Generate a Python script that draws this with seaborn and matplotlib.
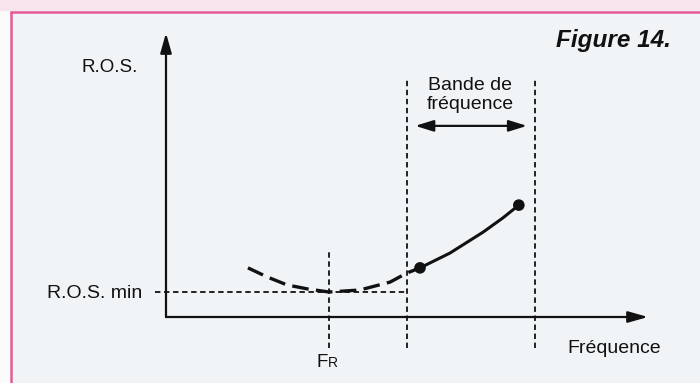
import matplotlib
matplotlib.use("Agg")
import matplotlib.pyplot as plt
import seaborn as sns
import pandas as pd
from matplotlib.patches import Rectangle

sns.set_theme(style="white")
plt.rcParams["font.family"] = ["Liberation Sans", "DejaVu Sans"]

# Standing-wave ratio curve (arbitrary units: frequency 0..10, R.O.S. 0..10)
freq_out = [1.70, 2.10, 2.51, 2.93, 3.38, 4.02, 4.65, 5.00, 5.27]
ros_out = [1.73, 1.41, 1.13, 0.99, 0.88, 0.95, 1.23, 1.55, 1.73]
freq_band = [5.27, 5.89, 6.58, 6.99, 7.32]
ros_band = [1.73, 2.25, 2.99, 3.49, 3.94]
band_edges = [5.00, 7.66]
f_resonance = 3.38
ros_min = 0.88

W, H = 700, 383
fig = plt.figure(figsize=(W / 100, H / 100), dpi=100)

# page layer in pixel units: paper, pink frame and captions
page = fig.add_axes([0, 0, 1, 1])
page.set_xlim(0, W)
page.set_ylim(H, 0)
page.axis("off")
page.add_patch(Rectangle((0, 0), W, H, color="#fbfbfc", zorder=0))
page.add_patch(Rectangle((0, 0), W, 10, color="#f7e4ed", zorder=0))
page.add_patch(Rectangle((11, 13), W, H, facecolor="#f1f4f7", edgecolor="none", zorder=0))
page.plot([11, W], [12, 12], color="#e55a98", lw=1.8, zorder=1)
page.plot([11, 11], [12, H], color="#e55a98", lw=1.8, zorder=1)

ink = "#111111"
page.text(671, 40, "Figure 14.", fontsize=17.5, fontweight="bold", fontstyle="italic",
          ha="right", va="center", color=ink)
page.text(110, 68, "R.O.S.", fontsize=13.5, ha="center", va="center", color=ink)
page.text(142, 293, "R.O.S. min", fontsize=14, ha="right", va="center", color=ink)
page.text(567, 353, "Fréquence", fontsize=14, ha="left", va="baseline", color=ink)
page.text(470, 95, "Bande de\nfréquence", fontsize=14, ha="center", va="center",
          multialignment="center", linespacing=1.12, color=ink)
page.text(317, 367, "F", fontsize=13.5, ha="left", va="baseline", color=ink)
page.text(328, 367, "R", fontsize=10, ha="left", va="baseline", color=ink)

# data layer
ax = fig.add_axes([166 / W, (H - 317) / H, 482 / W, 284 / H])
ax.set_xlim(0, 10)
ax.set_ylim(0, 10)
ax.axis("off")
ax.patch.set_alpha(0)

arrow_kw = dict(arrowstyle="-|>,head_length=0.6,head_width=0.17", color=ink,
                lw=1.6, mutation_scale=20, shrinkA=0, shrinkB=0)
ax.annotate("", xy=(10, 0), xytext=(0, 0), arrowprops=arrow_kw, annotation_clip=False)
ax.annotate("", xy=(0, 10), xytext=(0, 0), arrowprops=arrow_kw, annotation_clip=False)

band_arrow = dict(arrowstyle="<|-|>,head_length=0.55,head_width=0.17", color=ink,
                  lw=1.6, mutation_scale=20, shrinkA=0, shrinkB=0)
ax.annotate("", xy=(7.49, 6.73), xytext=(5.17, 6.73), arrowprops=band_arrow,
            annotation_clip=False)

thin_dash = dict(color=ink, lw=1.3, dashes=(3, 2), clip_on=False)
for edge in band_edges:
    ax.plot([edge, edge], [-1.09, 8.35], **thin_dash)
ax.plot([f_resonance, f_resonance], [-1.09, 2.29], **thin_dash)
ax.plot([-0.23, band_edges[0]], [ros_min, ros_min], **thin_dash)

out_df = pd.DataFrame({"f": freq_out, "ros": ros_out})
band_df = pd.DataFrame({"f": freq_band, "ros": ros_band})
sns.lineplot(data=out_df, x="f", y="ros", ax=ax, sort=False, color=ink,
             lw=2.4, estimator=None)
ax.lines[-1].set_dashes((5, 2.2))
sns.lineplot(data=band_df, x="f", y="ros", ax=ax, sort=False, color=ink,
             lw=2.2, estimator=None)
sns.scatterplot(x=[freq_band[0], freq_band[-1]], y=[ros_band[0], ros_band[-1]], ax=ax,
                s=70, color=ink, edgecolor="none", zorder=5)
ax.set_xlabel("")
ax.set_ylabel("")

fig.savefig("out.png", dpi=100)
